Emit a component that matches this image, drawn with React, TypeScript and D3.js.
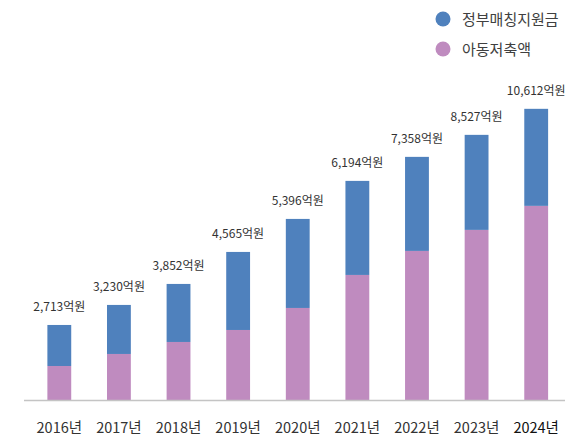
import * as d3 from "d3";

// values (억원)
const years = ["2016년", "2017년", "2018년", "2019년", "2020년", "2021년", "2022년", "2023년", "2024년"];
const savings = [1236, 1673, 2109, 2545, 3345, 4545, 5418, 6182, 7055];
const matching = [1491, 1782, 2109, 2836, 3236, 3418, 3418, 3454, 3527];
const totalLabels = ["2,713억원", "3,230억원", "3,852억원", "4,565억원", "5,396억원", "6,194억원", "7,358억원", "8,527억원", "10,612억원"];
const seriesNames = ["정부매칭지원금", "아동저축액"];

const W = 574;
const H = 447;
const BLUE = "#4f81bd";
const PURPLE = "#bf8bbf";
const FONT = "'Noto Sans CJK KR', 'Noto Sans', sans-serif";

export default function App() {
  const x = d3.scaleBand<string>()
    .domain(years)
    .range([29.5, 566])
    .paddingInner(0.6)
    .paddingOuter(0.3);

  const y = d3.scaleLinear()
    .domain([0, 10612])
    .range([400, 108]);

  const rows = years.map((yr, i) => ({ year: yr, savings: savings[i], matching: matching[i] }));
  const stack = d3.stack<{ year: string; savings: number; matching: number }>()
    .keys(["savings", "matching"]);
  const layers = stack(rows);
  const colors = [PURPLE, BLUE];

  return (
    <div style={{ position: "absolute", left: 0, top: 0 }}>
      <svg width={W} height={H} style={{ display: "block", fontFamily: FONT }}>
        <rect width={W} height={H} fill="#fff" />
        {layers.map((layer, li) => (
          <g key={layer.key}>
            {layer.map((d, i) => (
              <rect
                key={years[i]}
                x={x(years[i])}
                y={y(d[1])}
                width={x.bandwidth()}
                height={y(d[0]) - y(d[1])}
                fill={colors[li]}
              />
            ))}
          </g>
        ))}
        <line x1={24} x2={565} y1={y(0) + 0.5} y2={y(0) + 0.5} stroke="#c4c4c4" strokeWidth={1.3} />
        {layers[1].map((d, i) => (
          <text
            key={years[i]}
            x={(x(years[i]) ?? 0) + x.bandwidth() / 2}
            y={y(d[1]) - 14}
            textAnchor="middle"
            fontSize={12}
            fill="#333"
          >
            {totalLabels[i]}
          </text>
        ))}
        {years.map((yr, i) => (
          <text
            key={yr}
            x={(x(yr) ?? 0) + x.bandwidth() / 2}
            y={433}
            textAnchor="middle"
            fontSize={14.5}
            fill={i === years.length - 1 ? "#111" : "#333"}
          >
            {yr}
          </text>
        ))}
        {seriesNames.map((name, i) => (
          <g key={name} transform={`translate(443,${19 + i * 30})`}>
            <circle r={7.5} fill={i === 0 ? BLUE : PURPLE} />
            <text x={19} y={5.5} fontSize={15} fill="#404040">{name}</text>
          </g>
        ))}
      </svg>
    </div>
  );
}
